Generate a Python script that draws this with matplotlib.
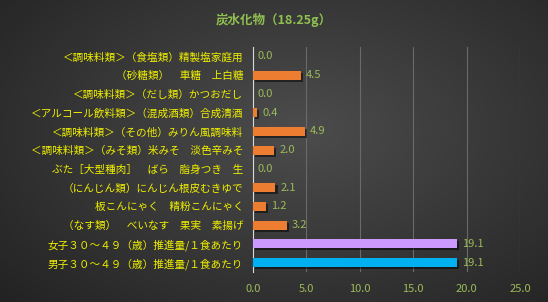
import numpy as np
import matplotlib
matplotlib.use("Agg")
import matplotlib.pyplot as plt
import matplotlib.patheffects as pe

plt.rcParams['font.family'] = ['Noto Sans CJK JP', 'DejaVu Sans']

title = "炭水化物（18.25g）"
labels = [
    "＜調味料類＞（食塩類）精製塩家庭用",
    "（砂糖類）　車糖　上白糖",
    "＜調味料類＞（だし類）かつおだし",
    "＜アルコール飲料類＞（混成酒類）合成清酒",
    "＜調味料類＞（その他）みりん風調味料",
    "＜調味料類＞（みそ類）米みそ　淡色辛みそ",
    "ぶた［大型種肉］　ばら　脂身つき　生",
    "（にんじん類）にんじん根皮むきゆで",
    "板こんにゃく　精粉こんにゃく",
    "（なす類）　べいなす　果実　素揚げ",
    "女子３０～４９（歳）推進量/１食あたり",
    "男子３０～４９（歳）推進量/１食あたり",
]
values = [0.0, 4.5, 0.0, 0.4, 4.9, 2.0, 0.0, 2.1, 1.2, 3.2, 19.1, 19.1]
colors = ["#ed7d31"] * 10 + ["#cc99ff", "#00b0f0"]
xticks = [0, 5, 10, 15, 20, 25]

fig = plt.figure(figsize=(5.48, 3.02), dpi=100)

# dark radial background
bg = fig.add_axes([0, 0, 1, 1], zorder=-10)
yy, xx = np.mgrid[0:302, 0:548]
r = np.sqrt(((xx - 300) / 420.0) ** 2 + ((yy - 130) / 260.0) ** 2)
shade = np.clip(0.30 - 0.17 * r, 0.12, 0.30)
bg.imshow(np.dstack([shade, shade, shade]), aspect='auto', extent=[0, 1, 0, 1])
bg.axis('off')

ax = fig.add_axes([253 / 548, 1 - 272 / 302, 267 / 548, 225 / 302])
ax.patch.set_alpha(0)
y = np.arange(len(labels))
bars = ax.barh(y, values, height=0.48, color=colors, zorder=3)
for b in bars:
    b.set_path_effects([pe.SimplePatchShadow(offset=(1.5, -1.5), shadow_rgbFace='black', alpha=0.5), pe.Normal()])

for yi, v in zip(y, values):
    ax.text(v + 0.45, yi, f"{v:.1f}", va='center', ha='left', color='#9bbb59', fontsize=8)

ax.set_ylim(len(labels) - 0.5, -0.5)
ax.set_xlim(0, 25)
ax.set_xticks(xticks)
ax.set_xticklabels([f"{t:.1f}" for t in xticks], color='#9bbb59', fontsize=8)
ax.set_yticks(y)
ax.set_yticklabels(labels, color='#f0f000', fontsize=7.65)
ax.tick_params(length=0, pad=7)
ax.tick_params(axis='x', pad=9)
ax.grid(axis='x', color='#6a6a6a', linewidth=0.8, zorder=0)
for s in ['top', 'right', 'bottom']:
    ax.spines[s].set_visible(False)
ax.spines['left'].set_color('#d9d9d9')
ax.spines['left'].set_linewidth(0.8)

fig.text(0.5, 1 - 20 / 302, title, ha='center', va='center', color='#8fbf4f',
         fontsize=9, fontweight='bold')

fig.savefig("out.png", dpi=100)
